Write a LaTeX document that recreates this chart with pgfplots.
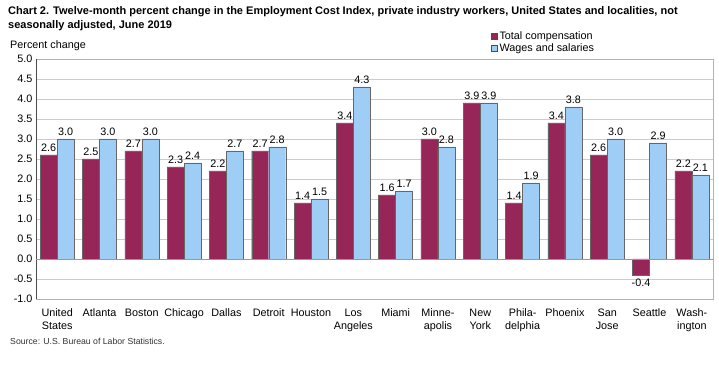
\documentclass[border=0pt]{standalone}
\usepackage{pgfplots}
\pgfplotsset{compat=1.18}
\usepackage{fontspec}
\setmainfont{Liberation Sans}
\definecolor{tc}{RGB}{150,38,88}
\definecolor{ws}{RGB}{158,206,246}
\begin{document}
\begin{tikzpicture}[x=1pt,y=1pt]
\path[fill=white] (0,0) rectangle (719,385);
\node[anchor=north west,align=left,font=\fontsize{11}{14.5}\selectfont\bfseries,inner sep=0pt] at (8,379)
 {Chart 2. Twelve-month percent change in the Employment Cost Index, private industry workers, United States and localities, not\\seasonally adjusted, June 2019};
\node[anchor=west,font=\fontsize{10.8}{13}\selectfont,inner sep=0pt] at (10,339) {Percent change};
\node[anchor=west,font=\fontsize{8.7}{10}\selectfont,color=black!80,inner sep=0pt] at (10,44) {Source: U.S. Bureau of Labor Statistics.};
\begin{axis}[
  at={(36pt,86pt)}, anchor=south west,
  scale only axis, width=677pt, height=240pt,
  xmin=-0.5, xmax=15.5, ymin=-1, ymax=5,
  ytick={-1,-0.5,...,5},
  /pgf/number format/fixed, /pgf/number format/fixed zerofill, /pgf/number format/precision=1,
  /pgf/number format/assume math mode=true,
  xtick={0,...,15},
  xticklabels={United\\States,Atlanta,Boston,Chicago,Dallas,Detroit,Houston,Los\\Angeles,Miami,Minne-\\apolis,New\\York,Phila-\\delphia,Phoenix,San\\Jose,Seattle,Wash-\\ington},
  xticklabel style={align=center,font=\fontsize{10.8}{13}\selectfont,yshift=-2pt},
  yticklabel style={font=\fontsize{10.8}{13}\selectfont},
  major tick style={draw=none},
  axis line style={gray!60},
  tick pos=left,
  ybar, bar width=17pt,
  nodes near coords,
  nodes near coords style={font=\fontsize{10.8}{13}\selectfont},
  legend style={at={(0.672,1.125)},anchor=north west,draw=none,fill=none,font=\fontsize{10.8}{13}\selectfont,inner sep=0pt,row sep=-1pt,cells={anchor=west}},
  legend image code/.code={\draw[#1,draw=black!70] (0pt,-3pt) rectangle (6pt,3pt);},
  clip=false,
]
\pgfplotsinvokeforeach{-0.5,0.5,1,1.5,2,2.5,3,3.5,4,4.5}{
  \draw[black!20,line width=0.9pt] (axis cs:-0.5,#1) -- (axis cs:15.5,#1);
}
\draw[black!70] (rel axis cs:0,0) -- (rel axis cs:0,1);
\addplot[fill=tc,draw=black!60,bar shift=-8.5pt] coordinates {
(0,2.6)(1,2.5)(2,2.7)(3,2.3)(4,2.2)(5,2.7)(6,1.4)(7,3.4)(8,1.6)(9,3.0)(10,3.9)(11,1.4)(12,3.4)(13,2.6)(14,-0.4)(15,2.2)};
\addlegendentry{Total compensation}
\addplot[fill=ws,draw=black!60,bar shift=8.5pt] coordinates {
(0,3.0)(1,3.0)(2,3.0)(3,2.4)(4,2.7)(5,2.8)(6,1.5)(7,4.3)(8,1.7)(9,2.8)(10,3.9)(11,1.9)(12,3.8)(13,3.0)(14,2.9)(15,2.1)};
\addlegendentry{Wages and salaries}
\draw[gray!80] (axis cs:-0.5,0) -- (axis cs:15.5,0);
\end{axis}
\end{tikzpicture}
\end{document}
